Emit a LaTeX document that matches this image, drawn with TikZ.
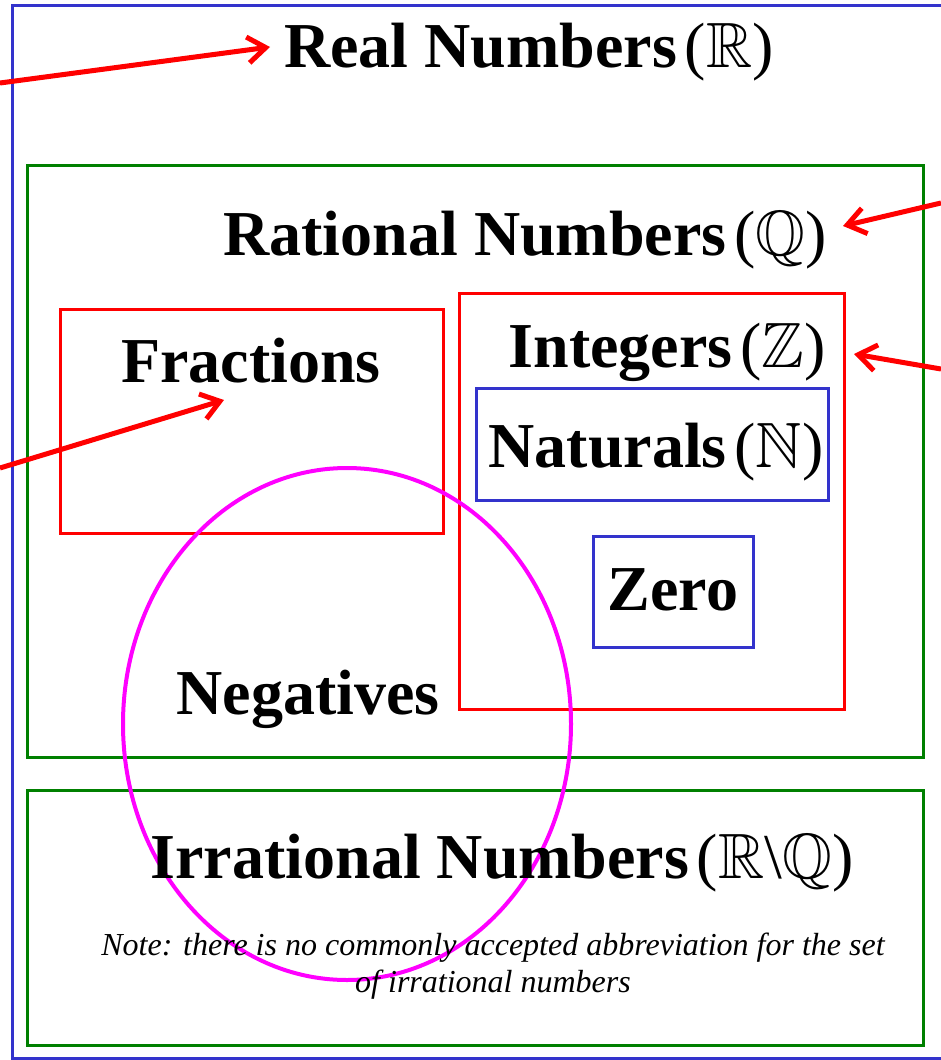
\documentclass[tikz,border=0pt]{standalone}
\usepackage{fontspec}
\usepackage{amssymb}
\setmainfont{Liberation Serif}
\usetikzlibrary{arrows.meta,shapes.geometric}
\definecolor{setblue}{RGB}{51,51,204}
\definecolor{setgreen}{RGB}{0,128,0}
\definecolor{setred}{RGB}{255,0,0}
\definecolor{setmag}{RGB}{255,0,255}
\newcommand{\bigsetfont}{\fontsize{64}{72}\selectfont\bfseries}
\newcommand{\bbset}[1]{\hspace{0.12em}{\mdseries(}\ensuremath{\mathbb{#1}}{\mdseries)}}
\begin{document}
\begin{tikzpicture}[x=1pt,y=-1pt,
  gbox/.style={draw=setgreen,line width=3pt,inner sep=0pt},
  rbox/.style={draw=setred,line width=3pt,inner sep=0pt},
  bbox/.style={draw=setblue,line width=3pt,inner sep=0pt},
  lbl/.style={font=\bigsetfont,anchor=base,inner sep=0pt},
  notetext/.style={font=\fontsize{32}{37}\selectfont\itshape,align=center,anchor=base,inner sep=0pt},
  arr/.style={draw=setred,line width=5pt,-{Straight Barb[length=18pt,width=26pt]}}]
\useasboundingbox (0,0) rectangle (941,1060);
\draw[setblue,line width=3pt] (941,5) -- (12,5) -- (12,1058) -- (941,1058);
\node[gbox,minimum width=896,minimum height=592] (rat) at (475,461) {};
\node[gbox,minimum width=896,minimum height=255] (irr) at (475,917.5) {};
\node[rbox,minimum width=383,minimum height=224] (frac) at (251.5,421) {};
\node[rbox,minimum width=385,minimum height=416] (int) at (651.5,501) {};
\node[bbox,minimum width=352,minimum height=112] (nat) at (652,444) {};
\node[bbox,minimum width=160,minimum height=111] (zero) at (673,591.5) {};
\node[ellipse,draw=setmag,line width=4pt,inner sep=0pt,minimum width=448,minimum height=512] (neg) at (347,724) {};
\node[lbl] (realT) at (529,67) {Real Numbers\bbset{R}};
\node[lbl] (ratT) at (525,255) {Rational Numbers\bbset{Q}};
\node[lbl] (fracT) at (251,382) {Fractions};
\node[lbl] (intT) at (667,367) {Integers\bbset{Z}};
\node[lbl] (natT) at (656,467) {Naturals\bbset{N}};
\node[lbl] (zeroT) at (673,610) {Zero};
\node[lbl] (negT) at (308,714) {Negatives};
\node[lbl] (irrT) at (502,878) {Irrational Numbers\hspace{0.12em}{\mdseries(}$\mathbb{R}${\mdseries\textbackslash}$\mathbb{Q}${\mdseries)}};
\node[notetext] (noteT) at (493,992) {Note: there is no commonly accepted abbreviation for the set\\of irrational numbers};
\coordinate (a1s) at (0,83);
\coordinate (a1e) at (270,47);
\coordinate (a2s) at (941,203);
\coordinate (a2e) at (843,226);
\coordinate (a3s) at (941,369);
\coordinate (a3e) at (854,354);
\coordinate (a4s) at (0,468);
\coordinate (a4e) at (224,400);
\draw[arr] (a1s) -- (a1e);
\draw[arr] (a2s) -- (a2e);
\draw[arr] (a3s) -- (a3e);
\draw[arr] (a4s) -- (a4e);
\end{tikzpicture}
\end{document}
